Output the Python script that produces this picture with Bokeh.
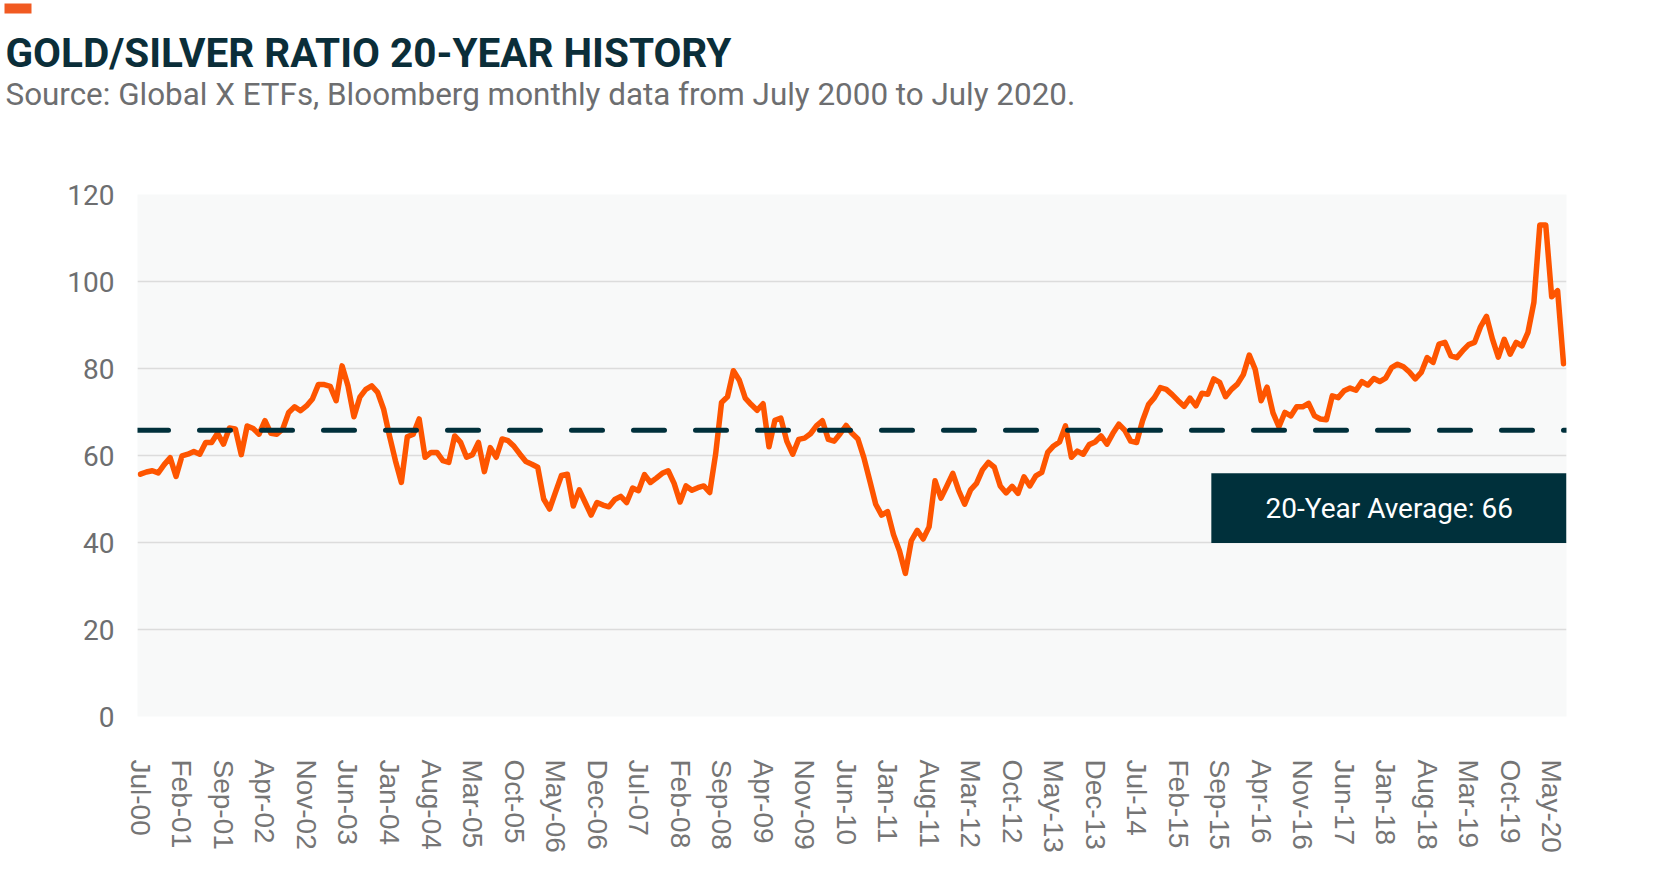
from bokeh.plotting import figure
from bokeh.models import Range1d, Label, BoxAnnotation, Span, FixedTicker
from bokeh.core.properties import value
from bokeh.embed import file_html
from bokeh.resources import INLINE

# ---- data -------------------------------------------------------------
x_labels = ["Jul-00", "Feb-01", "Sep-01", "Apr-02", "Nov-02", "Jun-03", "Jan-04",
            "Aug-04", "Mar-05", "Oct-05", "May-06", "Dec-06", "Jul-07", "Feb-08",
            "Sep-08", "Apr-09", "Nov-09", "Jun-10", "Jan-11", "Aug-11", "Mar-12",
            "Oct-12", "May-13", "Dec-13", "Jul-14", "Feb-15", "Sep-15", "Apr-16",
            "Nov-16", "Jun-17", "Jan-18", "Aug-18", "Mar-19", "Oct-19", "May-20"]
label_step_months = 7

# monthly gold/silver ratio, Jul 2000 .. Jul 2020
ratio = [
    55.7, 56.2, 56.5, 56.0, 57.9, 59.5, 55.2, 59.9, 60.3, 60.9,
    60.3, 63.0, 63.0, 65.1, 62.6, 66.3, 66.1, 60.2, 66.8, 66.2,
    64.9, 68.0, 65.1, 64.9, 66.1, 69.9, 71.2, 70.3, 71.4, 73.0,
    76.3, 76.3, 75.9, 72.6, 80.6, 76.0, 68.9, 73.4, 75.2, 76.0,
    74.5, 70.7, 64.5, 58.8, 53.8, 64.3, 64.9, 68.4, 59.6, 60.7,
    60.7, 58.8, 58.4, 64.5, 63.0, 59.6, 60.2, 63.0, 56.3, 61.8,
    59.6, 63.8, 63.4, 62.1, 60.3, 58.6, 58.0, 57.3, 50.0, 47.7,
    51.6, 55.4, 55.7, 48.4, 52.1, 49.2, 46.3, 49.2, 48.6, 48.2,
    49.9, 50.6, 49.2, 52.5, 51.9, 55.6, 53.8, 54.8, 55.9, 56.5,
    53.6, 49.3, 53.0, 52.0, 52.6, 53.0, 51.5, 60.3, 72.2, 73.5,
    79.5, 77.3, 73.2, 71.7, 70.4, 71.9, 62.0, 68.1, 68.6, 63.3,
    60.3, 63.7, 64.0, 65.0, 66.8, 68.0, 63.7, 63.3, 65.0, 66.9,
    65.1, 63.8, 59.5, 54.2, 48.8, 46.3, 47.1, 41.8, 38.1, 32.9,
    40.4, 42.8, 40.8, 43.6, 54.2, 50.2, 53.0, 55.9, 51.9, 48.8,
    52.1, 53.6, 56.7, 58.4, 57.3, 53.0, 51.4, 52.9, 51.3, 55.1,
    53.0, 55.3, 56.1, 60.7, 62.2, 63.1, 66.8, 59.6, 61.0, 60.3,
    62.5, 63.1, 64.5, 62.6, 65.1, 67.2, 65.8, 63.3, 63.0, 68.0,
    71.7, 73.3, 75.6, 75.2, 74.0, 72.6, 71.3, 73.2, 71.4, 74.3,
    74.1, 77.6, 76.8, 73.5, 75.2, 76.4, 78.6, 83.1, 79.8, 72.6,
    75.7, 69.8, 66.6, 69.9, 69.1, 71.2, 71.2, 72.0, 69.1, 68.4,
    68.2, 73.7, 73.3, 74.9, 75.5, 75.0, 77.0, 76.2, 77.7, 77.0,
    77.8, 80.2, 81.0, 80.4, 79.2, 77.6, 79.1, 82.5, 81.4, 85.6,
    86.0, 82.9, 82.5, 84.1, 85.5, 86.0, 89.6, 92.0, 86.8, 82.6,
    86.7, 83.3, 86.0, 85.2, 88.3, 95.2, 113.0, 113.0, 96.5, 97.9,
    81.1,
]
average_value = 65.8
average_text = "20-Year Average: 66"
y_ticks = [0, 20, 40, 60, 80, 100, 120]

title_text = "GOLD/SILVER RATIO 20-YEAR HISTORY"
subtitle_text = "Source: Global X ETFs, Bloomberg monthly data from July 2000 to July 2020."

# ---- styling ----------------------------------------------------------
ORANGE = "#fe5500"
TEAL = "#00303b"
GRAY = "#6d6e70"
FONT = "Roboto"

months = list(range(len(ratio)))
n = len(ratio)

W = 1668
HEAD_H = 130
MAIN_H = 893 - HEAD_H

# ---- header figure (separate root, frame covers the whole canvas) ------
head = figure(width=W, height=HEAD_H, output_backend="svg", toolbar_location=None,
              x_range=Range1d(0, W), y_range=Range1d(HEAD_H, 0),
              x_axis_location=None, y_axis_location=None,
              min_border=0, min_border_left=0, min_border_right=0,
              min_border_top=0, min_border_bottom=0)
head.outline_line_color = None
head.background_fill_color = "white"
head.border_fill_color = "white"
head.grid.visible = False
head.quad(left=[4], right=[31], top=[3], bottom=[13], fill_color="#f15a22",
          line_color=None)
head.text(x=[5], y=[52], text=[title_text], text_font=value(FONT),
          text_font_style="bold", text_font_size="40.5px", text_color="#0b2e39",
          text_baseline="alphabetic", text_align="left")
head.text(x=[5], y=[94], text=[subtitle_text], text_font=value(FONT),
          text_font_size="31.4px", text_color=GRAY,
          text_baseline="alphabetic", text_align="left")

# ---- main chart -------------------------------------------------------
ML, MR = 137, 102
MT = 194 - HEAD_H
MB = 893 - 716

p = figure(width=W, height=MAIN_H, output_backend="svg", toolbar_location=None,
           x_range=Range1d(-0.5, n - 0.5), y_range=Range1d(0, 120),
           min_border_left=ML, min_border_right=MR,
           min_border_top=MT, min_border_bottom=MB)
p.background_fill_color = "#f8f9f9"
p.border_fill_color = "white"
p.outline_line_color = None

p.xgrid.grid_line_color = None
p.ygrid.grid_line_color = "#dcdcdc"
p.ygrid.grid_line_width = 1.5

p.yaxis.ticker = FixedTicker(ticks=y_ticks)
p.yaxis.axis_line_color = None
p.yaxis.major_tick_line_color = None
p.yaxis.minor_tick_line_color = None
p.yaxis.major_tick_out = 0
p.yaxis.major_tick_in = 0
p.yaxis.major_label_standoff = 23
p.yaxis.major_label_text_font = FONT
p.yaxis.major_label_text_font_size = "28px"
p.yaxis.major_label_text_color = GRAY

tick_pos = [k * label_step_months for k in range(len(x_labels))]
p.xaxis.ticker = FixedTicker(ticks=tick_pos)
p.xaxis.major_label_overrides = {t: lab for t, lab in zip(tick_pos, x_labels)}
p.xaxis.major_label_orientation = "vertical"
p.xaxis.axis_line_color = None
p.xaxis.major_tick_line_color = None
p.xaxis.minor_tick_line_color = None
p.xaxis.major_tick_out = 0
p.xaxis.major_tick_in = 0
p.xaxis.major_label_standoff = 43
p.xaxis.major_label_text_font = "Liberation Sans"
p.xaxis.major_label_text_font_size = "28px"
p.xaxis.major_label_text_color = "#757575"

p.add_layout(Span(location=average_value, dimension="width", line_color=TEAL,
                  line_width=5, line_dash="31 31", line_cap="round"))

p.line(months, ratio, line_color=ORANGE, line_width=5.5,
       line_join="round", line_cap="round")

p.add_layout(BoxAnnotation(left=180.6, right=n - 0.5, bottom=39.9, top=55.9,
                           fill_color=TEAL, fill_alpha=1.0, line_color=None,
                           level="overlay"))
p.add_layout(Label(x=210.6, y=47.9, text=average_text, text_align="center",
                   text_baseline="middle", text_color="white",
                   text_font=FONT, text_font_size="28px", level="overlay"))

open("out.html", "w").write(file_html([head, p], INLINE))
